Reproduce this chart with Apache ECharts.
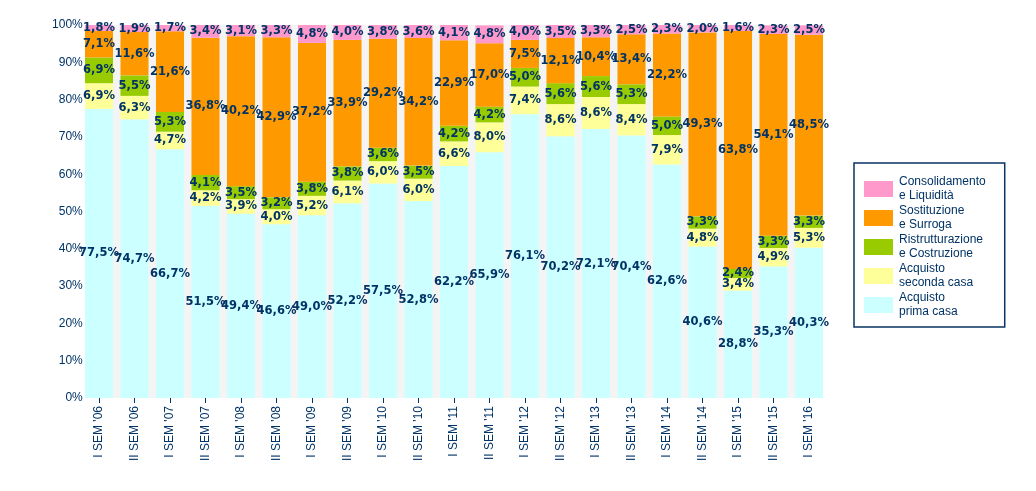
<!DOCTYPE html>
<html><head><meta charset="utf-8">
<script src="https://cdn.jsdelivr.net/npm/echarts@6/dist/echarts.min.js"></script>
<style>html,body{margin:0;padding:0;background:#fff}#c{width:1036px;height:491px}</style>
</head><body><div id="c"></div>
<script>
const categories = ["I SEM '06","II SEM '06","I SEM '07","II SEM '07","I SEM '08","II SEM '08","I SEM '09","II SEM '09","I SEM '10","II SEM '10","I SEM '11","II SEM '11","I SEM '12","II SEM '12","I SEM '13","II SEM '13","I SEM '14","II SEM '14","I SEM '15","II SEM '15","I SEM '16"];
const primaCasa      = [77.5,74.7,66.7,51.5,49.4,46.6,49.0,52.2,57.5,52.8,62.2,65.9,76.1,70.2,72.1,70.4,62.6,40.6,28.8,35.3,40.3];
const secondaCasa    = [6.9,6.3,4.7,4.2,3.9,4.0,5.2,6.1,6.0,6.0,6.6,8.0,7.4,8.6,8.6,8.4,7.9,4.8,3.4,4.9,5.3];
const ristrutturazione = [6.9,5.5,5.3,4.1,3.5,3.2,3.8,3.8,3.6,3.5,4.2,4.2,5.0,5.6,5.6,5.3,5.0,3.3,2.4,3.3,3.3];
const sostituzione   = [7.1,11.6,21.6,36.8,40.2,42.9,37.2,33.9,29.2,34.2,22.9,17.0,7.5,12.1,10.4,13.4,22.2,49.3,63.8,54.1,48.5];
const consolidamento = [1.8,1.9,1.7,3.4,3.1,3.3,4.8,4.0,3.8,3.6,4.1,4.8,4.0,3.5,3.3,2.5,2.3,2.0,1.6,2.3,2.5];
const yTicks = [0,10,20,30,40,50,60,70,80,90,100];

const names = ["Acquisto prima casa","Acquisto seconda casa","Ristrutturazione e Costruzione","Sostituzione e Surroga","Consolidamento e Liquidità"];
const legendText = {
  "Acquisto prima casa":"Acquisto\nprima casa",
  "Acquisto seconda casa":"Acquisto\nseconda casa",
  "Ristrutturazione e Costruzione":"Ristrutturazione\ne Costruzione",
  "Sostituzione e Surroga":"Sostituzione\ne Surroga",
  "Consolidamento e Liquidità":"Consolidamento\ne Liquidità"
};
const colors = ["#ccffff","#ffff99","#99cc00","#ff9900","#ff99cc"];
const datasets = [primaCasa, secondaCasa, ristrutturazione, sostituzione, consolidamento];
const navy = "#003366";

const series = datasets.map((d,i)=>({
  name: names[i], type:'bar', stack:'tot', data:d, barCategoryGap:'21%',
  itemStyle:{color:colors[i]},
  label:{show:true, position:'inside', color:navy, fontFamily:'DejaVu Sans', fontWeight:'bold', fontSize:11.5,
    formatter:p=>p.value.toFixed(1).replace('.',',')+'%'},
  labelLayout:{hideOverlap:false},
  emphasis:{disabled:true}
}));

const chart = echarts.init(document.getElementById('c'),null,{renderer:'canvas'});
chart.setOption({
  animation:false,
  backgroundColor:'#ffffff',
  grid:[
    {left:81.25,right:209.25,top:25,bottom:93,containLabel:false},
    {left:85,right:213,top:25,bottom:93,show:true,backgroundColor:'#f4f4f4',borderWidth:0,z:-1}
  ],
  xAxis:[
    {type:'category',data:categories,gridIndex:0,
     axisLine:{show:false},
     axisTick:{show:true,alignWithLabel:true,length:5,lineStyle:{color:navy}},
     axisLabel:{rotate:90,interval:0,margin:8,color:navy,fontFamily:'Liberation Sans, Arial',fontSize:12}},
    {type:'category',gridIndex:1,show:false,data:categories}
  ],
  yAxis:[
    {type:'value',min:0,max:100,interval:10,gridIndex:0,
     axisLine:{show:false},axisTick:{show:false},splitLine:{show:false},
     axisLabel:{formatter:'{value}%',color:navy,fontFamily:'Liberation Sans, Arial',fontSize:12,margin:-1.5}},
    {type:'value',gridIndex:1,show:false,min:0,max:100}
  ],
  legend:{
    orient:'vertical', left:854, top:163,
    data:names.slice().reverse(),
    itemWidth:29,itemHeight:16,itemGap:1,
    padding:[12,19,8,10],
    borderColor:'#0a3366',borderWidth:1.5,
    icon:'rect',
    formatter:n=>legendText[n],
    textStyle:{color:navy,fontFamily:'Liberation Sans, Arial',fontSize:12,lineHeight:14,padding:[0,0,0,1]}
  },
  series:series
});
</script></body></html>
